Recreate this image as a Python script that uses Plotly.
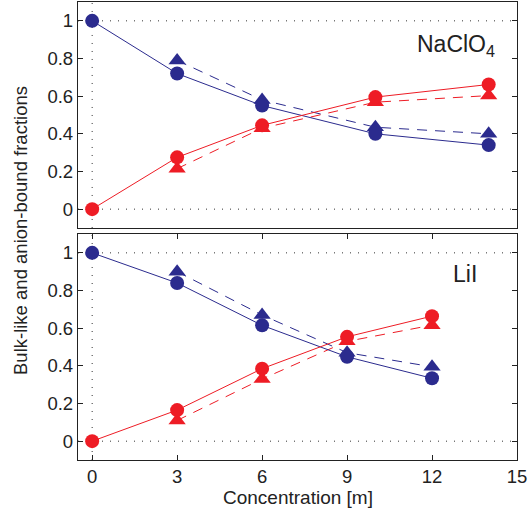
import plotly.graph_objects as go

# NaClO4 panel
x_na = [0, 3, 6, 10, 14]
x_na_tri = [3, 6, 10, 14]
na_bulk_circ = [1.0, 0.72, 0.55, 0.40, 0.34]
na_bulk_tri = [0.79, 0.58, 0.435, 0.40]
na_anion_circ = [0.0, 0.275, 0.445, 0.595, 0.662]
na_anion_tri = [0.215, 0.43, 0.568, 0.603]

# LiI panel
x_li = [0, 3, 6, 9, 12]
x_li_tri = [3, 6, 9, 12]
li_bulk_circ = [1.0, 0.84, 0.615, 0.448, 0.334]
li_bulk_tri = [0.90, 0.67, 0.47, 0.395]
li_anion_circ = [0.0, 0.165, 0.385, 0.554, 0.664]
li_anion_tri = [0.11, 0.33, 0.53, 0.616]

x_ticks = [0, 3, 6, 9, 12, 15]
y_ticks = [0, 0.2, 0.4, 0.6, 0.8, 1]
y_ticklabels = ["0", "0.2", "0.4", "0.6", "0.8", "1"]

BLUE = "#2b2b8e"
RED = "#ee1c25"

fig = go.Figure()

def add_panel(xc, xt, bc, bt, ac, at, xa, ya):
    for xs, ys, col, sym, dash in [
        (xt, bt, BLUE, "triangle-up", "dash"),
        (xt, at, RED, "triangle-up", "dash"),
        (xc, bc, BLUE, "circle", "solid"),
        (xc, ac, RED, "circle", "solid"),
    ]:
        fig.add_trace(go.Scatter(
            x=xs, y=ys, mode="lines+markers", xaxis=xa, yaxis=ya,
            line=dict(color=col, width=1, dash=("10px,8px" if dash == "dash" else "solid")),
            marker=dict(color=col, symbol=sym, size=(15 if sym == "triangle-up" else 14),
                        line=dict(width=0)),
            showlegend=False, hoverinfo="skip"))

add_panel(x_na, x_na_tri, na_bulk_circ, na_bulk_tri, na_anion_circ, na_anion_tri, "x", "y")
add_panel(x_li, x_li_tri, li_bulk_circ, li_bulk_tri, li_anion_circ, li_anion_tri, "x2", "y2")

FONT = "Liberation Sans, Arial, Helvetica, sans-serif"
TXT = "#222"

axis_common = dict(showline=True, linecolor="#222", linewidth=1.3, mirror="ticks",
                   ticks="inside", ticklen=5, tickcolor="#222", showgrid=False,
                   zeroline=False, tickfont=dict(family=FONT, size=18.5, color=TXT))

fig.update_layout(
    width=530, height=514,
    margin=dict(l=78, r=13, t=2, b=54),
    paper_bgcolor="white", plot_bgcolor="white",
    xaxis=dict(range=[-0.5, 15], tickvals=x_ticks, showticklabels=False,
               domain=[0, 1], anchor="y", **{**axis_common, "ticks": ""}),
    yaxis=dict(range=[-0.1, 1.1], tickvals=y_ticks, ticktext=y_ticklabels,
               domain=[0.5066, 1], anchor="x", **axis_common),
    xaxis2=dict(range=[-0.5, 15], tickvals=x_ticks, ticktext=[str(v) for v in x_ticks],
                domain=[0, 1], anchor="y2", **axis_common),
    yaxis2=dict(range=[-0.1, 1.1], tickvals=y_ticks, ticktext=y_ticklabels,
                domain=[0, 0.4934], anchor="x2", **axis_common),
)

# dotted reference lines
for xa, ya in [("x", "y"), ("x2", "y2")]:
    for yv in [0, 1]:
        fig.add_shape(type="line", xref=xa, yref=ya, x0=-0.5, x1=15, y0=yv, y1=yv,
                      line=dict(color="#333", width=1, dash="1px,7px"), layer="below")
    fig.add_shape(type="line", xref=xa, yref=ya, x0=0, x1=0, y0=-0.1, y1=1.1,
                  line=dict(color="#333", width=1, dash="1px,7px"), layer="below")

fig.add_annotation(text="NaClO<sub>4</sub>", xref="x", yref="y", x=14.3, y=0.87,
                   xanchor="right", yanchor="middle", showarrow=False,
                   font=dict(family=FONT, size=23, color=TXT))
fig.add_annotation(text="LiI", xref="x2", yref="y2", x=13.66, y=0.89,
                   xanchor="right", yanchor="middle", showarrow=False,
                   font=dict(family=FONT, size=23, color=TXT))
fig.add_annotation(text="Bulk-like and anion-bound fractions", xref="paper", yref="paper",
                   x=0, y=0.5, xshift=-58, textangle=-90, showarrow=False,
                   xanchor="center", yanchor="middle",
                   font=dict(family=FONT, size=18.5, color=TXT))
fig.add_annotation(text="Concentration [m]", xref="paper", yref="paper",
                   x=0.5, y=0, yshift=-37, showarrow=False,
                   xanchor="center", yanchor="middle",
                   font=dict(family=FONT, size=19, color=TXT))

fig.write_html("out.html")
